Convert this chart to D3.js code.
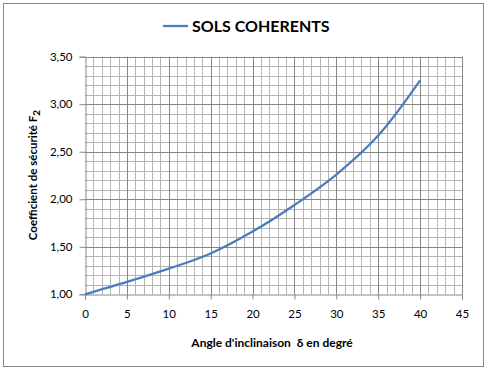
<!DOCTYPE html>
<html><head><meta charset="utf-8">
<script src="https://cdn.jsdelivr.net/npm/d3@7"></script>
<style>body{margin:0;background:#fff}svg{display:block}text{font-family:Lato,"Open Sans",sans-serif}</style>
</head><body>
<script>
const angles = [0, 5, 10, 15, 20, 25, 30, 35, 40];
const factor = [1.00, 1.13, 1.27, 1.43, 1.66, 1.94, 2.26, 2.67, 3.25];
const xTicks = [0, 5, 10, 15, 20, 25, 30, 35, 40, 45];
const yTicks = [1.0, 1.5, 2.0, 2.5, 3.0, 3.5];
const seriesName = "SOLS COHERENTS";

const W = 487, H = 371;
const svg = d3.select("body").append("svg").attr("width", W).attr("height", H);
svg.append("rect").attr("x", 3.5).attr("y", 3.5).attr("width", 480).attr("height", 363)
  .attr("fill", "#fff").attr("stroke", "#868686").attr("stroke-width", 1);

const L = 85, R = 462, T = 56.7, B = 294.3;
const x = d3.scaleLinear().domain([0, 45]).range([L, R]);
const y = d3.scaleLinear().domain([1, 3.5]).range([B, T]);

const g = svg.append("g");
// minor grid
const minorX = d3.range(0, 46, 1).filter(v => v % 5 !== 0);
const minorY = d3.range(10, 36, 1).filter(v => v % 5 !== 0).map(v => v / 10);
g.selectAll(".mx").data(minorX).join("line")
  .attr("x1", d => Math.round(x(d)) + 0.5).attr("x2", d => Math.round(x(d)) + 0.5)
  .attr("y1", T).attr("y2", B).attr("stroke", "#b4b4b4").attr("stroke-width", 1);
g.selectAll(".my").data(minorY).join("line")
  .attr("y1", d => Math.round(y(d)) + 0.5).attr("y2", d => Math.round(y(d)) + 0.5)
  .attr("x1", L).attr("x2", R).attr("stroke", "#b4b4b4").attr("stroke-width", 1);
// major grid
g.selectAll(".Mx").data(xTicks.slice(1)).join("line")
  .attr("x1", d => Math.round(x(d)) + 0.5).attr("x2", d => Math.round(x(d)) + 0.5)
  .attr("y1", T).attr("y2", B).attr("stroke", "#868686").attr("stroke-width", 1);
g.selectAll(".My").data(yTicks.slice(1)).join("line")
  .attr("y1", d => Math.round(y(d)) + 0.5).attr("y2", d => Math.round(y(d)) + 0.5)
  .attr("x1", L).attr("x2", R).attr("stroke", "#868686").attr("stroke-width", 1);

// axes
const fmt = d => d3.format(".2f")(d).replace(".", ",");
const yAxis = d3.axisLeft(y).tickValues(yTicks).tickFormat(fmt).tickSize(6).tickPadding(7);
const xAxis = d3.axisBottom(x).tickValues(xTicks).tickFormat(d3.format("d")).tickSize(5).tickPadding(10);
const ya = svg.append("g").attr("transform", `translate(${Math.round(L) + 0.5},0)`).call(yAxis);
const xa = svg.append("g").attr("transform", `translate(0,${Math.round(B) + 0.5})`).call(xAxis);
[ya, xa].forEach(a => {
  a.select(".domain").attr("stroke", "#868686");
  a.selectAll(".tick line").attr("stroke", "#868686");
  a.selectAll(".tick text").attr("fill", "#000").style("font-size", "11.5px").style("font-family", "Lato, sans-serif");
});

// line
const line = d3.line().x((d, i) => x(angles[i])).y(d => y(d)).curve(d3.curveCatmullRom.alpha(0.5));
svg.append("path").datum(factor).attr("d", line).attr("fill", "none")
  .attr("stroke", "#4a7ebb").attr("stroke-width", 2.25).attr("stroke-linejoin", "round");

// legend/title
svg.append("line").attr("x1", 163).attr("x2", 188).attr("y1", 26).attr("y2", 26)
  .attr("stroke", "#4a7ebb").attr("stroke-width", 2.25);
svg.append("text").attr("x", 192).attr("y", 32).text(seriesName)
  .style("font-weight", "bold").style("font-size", "16px").attr("fill", "#000");

// axis titles
const yl = svg.append("text").attr("transform", "translate(37,175) rotate(-90)")
  .attr("text-anchor", "middle").style("font-weight", "bold").style("font-size", "11.5px");
yl.append("tspan").text("Coefficient de sécurité F");
yl.append("tspan").attr("dy", 3).style("font-size", "10px").text("2");
svg.append("text").attr("x", 272).attr("y", 347).attr("text-anchor", "middle")
  .style("font-weight", "bold").style("font-size", "12px").text("Angle d'inclinaison \u00a0δ en degré");
</script>
</body></html>
